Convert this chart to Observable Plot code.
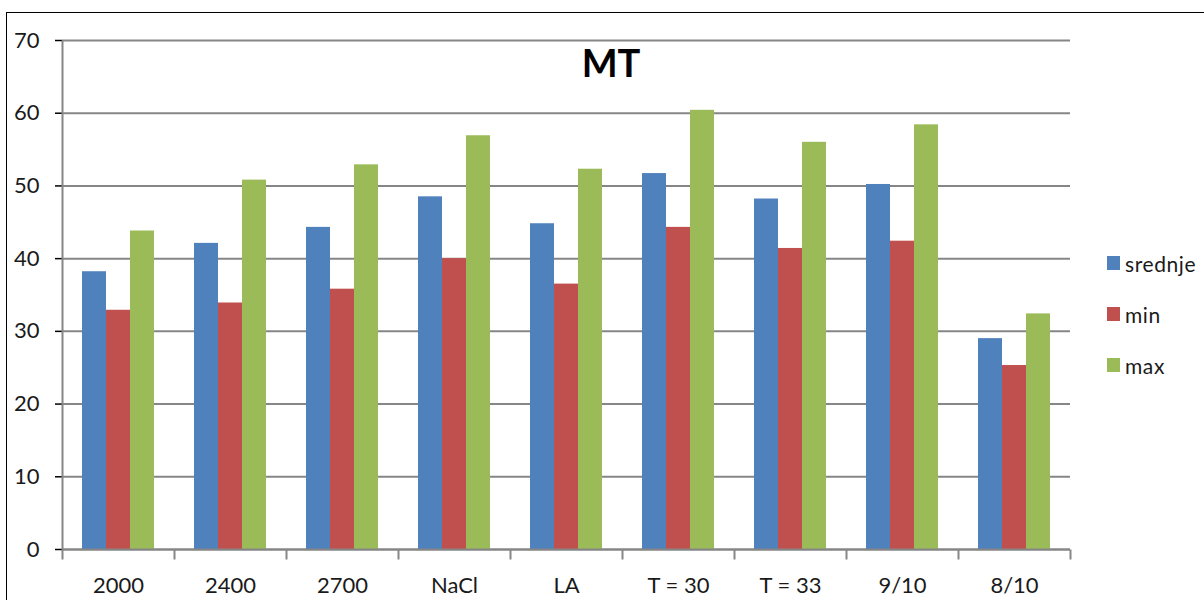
<!DOCTYPE html>
<html>
<head>
<meta charset="utf-8">
<script src="https://cdn.jsdelivr.net/npm/d3@7"></script>
<script src="https://cdn.jsdelivr.net/npm/@observablehq/plot@0.6"></script>
<style>
  html, body { margin: 0; padding: 0; background: #fff; overflow: hidden; }
  #wrap { position: relative; width: 1204px; height: 600px; font-family: Lato, "Open Sans", sans-serif; }
  #border { position: absolute; left: 6px; top: 12px; width: 1400px; height: 800px; border: 1.5px solid #000; box-sizing: border-box; pointer-events: none; }
  #chart { position: absolute; left: 0; top: 0; }
  #title { position: absolute; left: 511px; width: 200px; top: 38px; text-align: center; font-size: 38px; font-weight: 700; color: #000; line-height: 48px; }
  #legend { position: absolute; left: 1107px; top: 252px; }
  .li { display: flex; align-items: center; height: 22px; margin-bottom: 29px; font-size: 21px; color: #1a1a1a; letter-spacing: 0.6px; }
  .sw { width: 13px; height: 14px; margin-right: 5px; }
  svg [aria-label="y-axis tick"] { stroke: #868686; stroke-width: 1.5px; }
  svg text { fill: #1a1a1a; }
</style>
</head>
<body>
<div id="wrap">
  <div id="chart"></div>
  <div id="title"></div>
  <div id="legend"></div>
  <div id="border"></div>
</div>
<script>
const titleText = "MT";
const categories = ["2000", "2400", "2700", "NaCl", "LA", "T = 30", "T = 33", "9/10", "8/10"];
const seriesNames = ["srednje", "min", "max"];
const srednje = [38.2, 42.1, 44.3, 48.5, 44.8, 51.7, 48.2, 50.2, 29.0];
const minVals = [32.9, 33.9, 35.8, 40.0, 36.5, 44.3, 41.4, 42.4, 25.3];
const maxVals = [43.8, 50.8, 52.9, 56.9, 52.3, 60.4, 56.0, 58.4, 32.4];
const yTicks = [0, 10, 20, 30, 40, 50, 60, 70];
const colors = ["#4F81BD", "#C0504D", "#9BBB59"];

const seriesValues = [srednje, minVals, maxVals];
const rows = [];
categories.forEach((c, i) => {
  seriesNames.forEach((s, j) => rows.push({category: c, series: s, value: seriesValues[j][i]}));
});

const W = 1204, H = 600;
const mL = 62, mR = 134, mT = 40, mB = 51;
const frameH = H - mT - mB;
const gridColor = "#868686";

// vertical line symbol: from (top offset) to (bottom offset) relative to anchor
function vline(y0, y1) {
  return { draw(ctx) { ctx.moveTo(0, y0); ctx.lineTo(0, y1); } };
}

const chart = Plot.plot({
  width: W,
  height: H,
  marginLeft: mL,
  marginRight: mR,
  marginTop: mT,
  marginBottom: mB,
  style: { fontFamily: "Lato, 'Open Sans', sans-serif", fontSize: "22px", background: "transparent" },
  fx: { domain: categories, padding: 0, label: null, tickSize: 0, tickPadding: 28 },
  x: { domain: seriesNames, paddingInner: 0, paddingOuter: 0.74, axis: null },
  y: { domain: [0, 70], ticks: yTicks, tickSize: 7, tickPadding: 16, label: null, tickFormat: d => d },
  color: { domain: seriesNames, range: colors },
  marks: [
    Plot.gridY(yTicks, { stroke: gridColor, strokeOpacity: 1, strokeWidth: 2 }),
    Plot.barY(rows, { fx: "category", x: "series", y: "value", fill: "series" }),
    Plot.ruleY([0], { stroke: gridColor, strokeWidth: 2 }),
    // category boundary ticks below the baseline
    Plot.dot([0], { frameAnchor: "bottom-left", symbol: vline(0, 10), stroke: gridColor, strokeWidth: 2, fill: "none" }),
    Plot.dot([categories[categories.length - 1]], { fx: d => d, frameAnchor: "bottom-right", symbol: vline(0, 10), stroke: gridColor, strokeWidth: 2, fill: "none" }),
    // value axis line
    Plot.dot([categories[0]], { fx: d => d, frameAnchor: "bottom-left", symbol: vline(-frameH, 0), stroke: gridColor, strokeWidth: 2, fill: "none" })
  ]
});
document.getElementById("chart").appendChild(chart);

document.getElementById("title").textContent = titleText;
const legend = document.getElementById("legend");
seriesNames.forEach((s, i) => {
  const item = document.createElement("div");
  item.className = "li";
  const sw = document.createElement("div");
  sw.className = "sw";
  sw.style.background = colors[i];
  const t = document.createElement("span");
  t.textContent = s;
  item.appendChild(sw);
  item.appendChild(t);
  legend.appendChild(item);
});
</script>
</body>
</html>
